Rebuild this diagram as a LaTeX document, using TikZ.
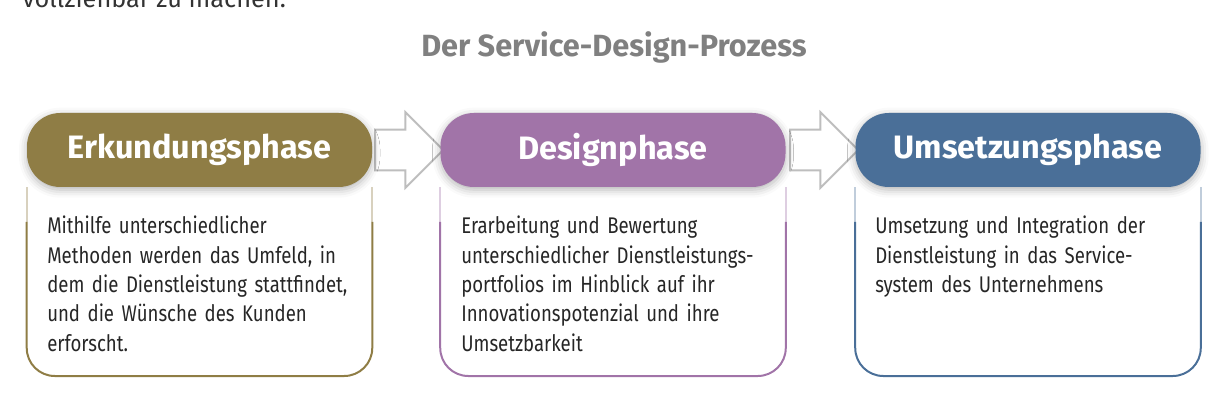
\documentclass[tikz,border=0pt]{standalone}
\usepackage{fontspec}
\setmainfont{Fira Sans}
\newfontfamily\bodyfont[FakeStretch=0.82]{Fira Sans}
\usetikzlibrary{shapes.arrows,shadows.blur}

\definecolor{erkOlive}{RGB}{143,125,69}
\definecolor{desLila}{RGB}{161,116,168}
\definecolor{umsBlau}{RGB}{74,111,152}
\definecolor{pfeilGrau}{RGB}{190,190,190}

\begin{document}
\begin{tikzpicture}[x=0.75pt,y=-0.75pt,
    phase/.style={fill=#1, rounded corners=25pt, minimum width=258.75pt,
                  minimum height=55.5pt, inner sep=0pt, text=white,
                  font=\bfseries\fontsize{24.3}{28}\selectfont,
                  blur shadow={shadow xshift=0pt, shadow yshift=-2pt,
                               shadow blur radius=6pt, shadow opacity=30}},
    frame/.style={draw=#1, line width=1.5pt, rounded corners=21pt},
    fade/.style={draw=#1!35, line width=1.5pt},
    desc/.style={anchor=north west, inner sep=0pt, align=left,
                 text width=235pt, text=black!85,
                 font=\bodyfont\fontsize{17}{22}\selectfont},
    pfeil/.style={single arrow, draw=pfeilGrau, line width=1.5pt, fill=white,
                  minimum height=51pt, inner xsep=0pt, inner ysep=14.6pt,
                  single arrow head extend=13pt, single arrow tip angle=90}]
  \useasboundingbox (0,0) rectangle (1220,402);
  \clip (0,0) rectangle (1220,402);
  % Hilfslinien fuer die Rahmen
  \coordinate (mitte) at (0,222);
  \coordinate (unten) at (0,376);

  \node[anchor=base west, inner sep=0pt, text=black!80,
        font=\fontsize{19}{22}\selectfont] (vorher) at (22,8) {vollziehbar zu machen.};
  \node[text=black!50, font=\bfseries\fontsize{23}{27}\selectfont] (titel)
        at (614,47) {Der Service-Design-Prozess};

  % Pfeile zwischen den Phasen
  \node[pfeil] (pfeilA) at (399,150) {};
  \node[pfeil] (pfeilB) at (814,150) {};

  % Kopfzeilen
  \node[phase=erkOlive] (erk) at (199.5,150) {Erkundungsphase};
  \node[phase=desLila]  (des) at (613,150)   {Designphase};
  \node[phase=umsBlau]  (ums) at (1028,150)  {Umsetzungsphase};

  % Rahmen unter den Kopfzeilen
  \draw[fade=erkOlive] (erk.south west) -- (erk.south west |- mitte);
  \draw[fade=erkOlive] (erk.south east) -- (erk.south east |- mitte);
  \draw[frame=erkOlive] (erk.south west |- mitte) -- (erk.south west |- unten)
       -- (erk.south east |- unten) -- (erk.south east |- mitte);
  \draw[fade=desLila] (des.south west) -- (des.south west |- mitte);
  \draw[fade=desLila] (des.south east) -- (des.south east |- mitte);
  \draw[frame=desLila] (des.south west |- mitte) -- (des.south west |- unten)
       -- (des.south east |- unten) -- (des.south east |- mitte);
  \draw[fade=umsBlau] (ums.south west) -- (ums.south west |- mitte);
  \draw[fade=umsBlau] (ums.south east) -- (ums.south east |- mitte);
  \draw[frame=umsBlau] (ums.south west |- mitte) -- (ums.south west |- unten)
       -- (ums.south east |- unten) -- (ums.south east |- mitte);

  % Beschreibungen
  \node[desc] (erkText) at (47,216) {Mithilfe unterschiedlicher\\
    Methoden werden das Umfeld, in\\dem die Dienstleistung stattfindet,\\
    und die Wünsche des Kunden\\erforscht.};
  \node[desc] (desText) at (461,216) {Erarbeitung und Bewertung\\
    unterschiedlicher Dienstleistungs-\\portfolios im Hinblick auf ihr\\
    Innovationspotenzial und ihre\\Umsetzbarkeit};
  \node[desc] (umsText) at (875,216) {Umsetzung und Integration der\\
    Dienstleistung in das Service-\\system des Unternehmens};
\end{tikzpicture}
\end{document}
